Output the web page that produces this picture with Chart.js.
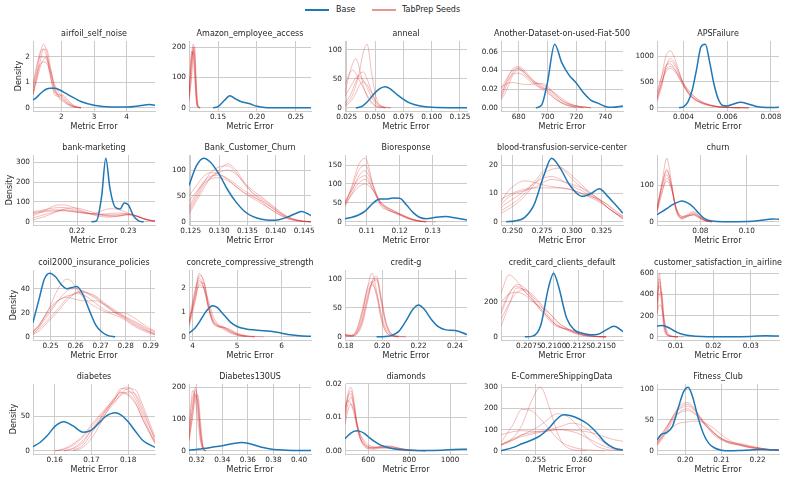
<!DOCTYPE html>
<html lang="en">
<head>
<meta charset="UTF-8">
<title>Metric Error densities: Base vs TabPrep Seeds</title>
<script src="https://cdn.jsdelivr.net/npm/chart.js"></script>
<style>
    body { margin: 0; background: #fff; font-family: "DejaVu Sans", sans-serif; }
    #figure { position: relative; width: 790px; height: 480px; overflow: hidden; }
    #figure canvas { position: absolute; }
    .legend-line { position: absolute; top: 9px; width: 24px; height: 2px; }
    .legend-text { position: absolute; top: 4px; font-size: 8px; line-height: 12px; color: #262626; }
</style>
</head>
<body>
<div id="figure">
    <div class="legend-line" style="left:305px;background:#1f77b4"></div>
    <div class="legend-text" style="left:336px">Base</div>
    <div class="legend-line" style="left:372px;background:rgba(214,39,40,0.5)"></div>
    <div class="legend-text" style="left:402px">TabPrep Seeds</div>
</div>
<script>
// one entry per panel, left to right, top to bottom
const titles = ['airfoil_self_noise', 'Amazon_employee_access', 'anneal', 'Another-Dataset-on-used-Fiat-500', 'APSFailure',
    'bank-marketing', 'Bank_Customer_Churn', 'Bioresponse', 'blood-transfusion-service-center', 'churn',
    'coil2000_insurance_policies', 'concrete_compressive_strength', 'credit-g', 'credit_card_clients_default', 'customer_satisfaction_in_airline',
    'diabetes', 'Diabetes130US', 'diamonds', 'E-CommereShippingData', 'Fitness_Club'];

// x positions (metric error) where the densities were read
const grids = [
    [1.13, 1.25, 1.35, 1.45, 1.55, 1.65, 1.8, 1.95, 2.05, 2.2, 2.4, 2.6, 3.0, 3.5, 4.0, 4.4, 4.7, 4.87],
    [0.1127, 0.116, 0.118, 0.12, 0.122, 0.124, 0.127, 0.1437, 0.15, 0.158, 0.1653, 0.172, 0.18, 0.19, 0.2, 0.21, 0.23, 0.2695],
    [0.0235, 0.027, 0.03, 0.033, 0.036, 0.0395, 0.043, 0.047, 0.051, 0.055, 0.059, 0.064, 0.07, 0.08, 0.09, 0.1, 0.1312],
    [667.8, 672, 676, 680, 684, 688, 692, 696, 700, 705, 710, 715, 720, 725, 730, 735, 740, 745, 752.4],
    [0.00279, 0.003, 0.0032, 0.0034, 0.0036, 0.0038, 0.004, 0.0042, 0.0044, 0.0046, 0.0048, 0.005, 0.0052, 0.0054, 0.0056, 0.0058, 0.006, 0.0063, 0.0066, 0.007, 0.0074, 0.0078, 0.00837],
    [0.2114, 0.2135, 0.2155, 0.2175, 0.2195, 0.2215, 0.2228, 0.2238, 0.2248, 0.2256, 0.2264, 0.2274, 0.2284, 0.2292, 0.23, 0.231, 0.232, 0.233, 0.2341, 0.2352],
    [0.1247, 0.126, 0.1273, 0.1285, 0.13, 0.1315, 0.133, 0.1345, 0.136, 0.1375, 0.139, 0.1405, 0.142, 0.1435, 0.1446, 0.1462],
    [0.1034, 0.1055, 0.1075, 0.1095, 0.112, 0.114, 0.116, 0.118, 0.12, 0.122, 0.124, 0.126, 0.128, 0.131, 0.134, 0.137, 0.1404],
    [0.2403, 0.2446, 0.252, 0.26, 0.268, 0.276, 0.2828, 0.29, 0.298, 0.3083, 0.316, 0.3228, 0.33, 0.3365, 0.3428],
    [0.0613, 0.0635, 0.0655, 0.0675, 0.0695, 0.072, 0.0745, 0.077, 0.0795, 0.082, 0.085, 0.09, 0.1, 0.106, 0.111, 0.1139],
    [0.243, 0.2455, 0.2475, 0.2497, 0.252, 0.2545, 0.2565, 0.2585, 0.2605, 0.263, 0.2655, 0.268, 0.2705, 0.273, 0.2758, 0.279, 0.2825, 0.286, 0.2895, 0.2917],
    [3.917, 4.05, 4.15, 4.25, 4.35, 4.45, 4.55, 4.7, 4.85, 5.0, 5.2, 5.4, 5.6, 5.8, 6.0, 6.2, 6.4, 6.663],
    [0.1797, 0.183, 0.186, 0.189, 0.192, 0.1945, 0.197, 0.1995, 0.202, 0.205, 0.209, 0.213, 0.217, 0.22, 0.223, 0.227, 0.231, 0.235, 0.24, 0.2465],
    [0.2047, 0.2055, 0.2063, 0.2071, 0.2079, 0.2087, 0.2095, 0.21, 0.2105, 0.2113, 0.2121, 0.2129, 0.2137, 0.2145, 0.2153, 0.2161, 0.217],
    [0.00497, 0.0056, 0.0062, 0.0068, 0.0074, 0.008, 0.0088, 0.0096, 0.0105, 0.012, 0.014, 0.017, 0.02, 0.025, 0.03, 0.034, 0.0375],
    [0.1541, 0.156, 0.158, 0.16, 0.1625, 0.165, 0.1677, 0.17, 0.172, 0.174, 0.1764, 0.178, 0.18, 0.182, 0.184, 0.1873],
    [0.314, 0.317, 0.319, 0.321, 0.323, 0.325, 0.327, 0.33, 0.34, 0.35, 0.355, 0.36, 0.37, 0.38, 0.39, 0.4093],
    [486, 500, 515, 530, 545, 560, 580, 600, 630, 660, 700, 750, 800, 880, 960, 1020, 1083],
    [0.25125, 0.2525, 0.2535, 0.2545, 0.2555, 0.2565, 0.2573, 0.258, 0.2588, 0.2597, 0.2605, 0.2615, 0.2625, 0.2635, 0.26443],
    [0.1922, 0.1935, 0.195, 0.1965, 0.198, 0.1995, 0.2008, 0.202, 0.2035, 0.205, 0.2065, 0.208, 0.21, 0.2125, 0.215, 0.218, 0.221, 0.2235, 0.2259]
];

// density of the Base run on each grid (null = no curve there)
const baseCurves = [
    [0.3, 0.42, 0.55, 0.66, 0.74, 0.77, 0.77, 0.7, 0.63, 0.52, 0.38, 0.25, 0.1, 0.03, 0.03, 0.08, 0.13, 0.1],
    [null, null, null, null, null, null, null, 0, 4, 24, 40, 30, 20, 14, 5, 1, 0, 0],
    [null, null, null, 0, 1, 4, 10, 19, 28, 34, 36.5, 32, 22, 9, 3, 1, 0],
    [null, null, null, null, null, null, 0, 0.003, 0.027, 0.068, 0.048, 0.035, 0.0265, 0.016, 0.0083, 0.005, 0.0015, 0.0005, 0.002],
    [null, null, null, null, null, 0, 20, 110, 340, 745, 1180, 1230, 880, 450, 160, 45, 35, 75, 110, 70, 20, 5, 10],
    [null, null, null, null, null, null, 0, 5, 130, 320, 170, 75, 65, 95, 85, 30, 5, 0],
    [70, 108, 123, 115, 92, 62, 38, 20, 10, 5, 3, 4, 9, 16, 20, 12],
    [8, 12, 18, 28, 50, 60, 60, 63, 62, 45, 25, 12, 8, 12, 14, 10, 5],
    [null, 0, 0.3, 1.5, 6, 16, 22.5, 19, 13, 9, 10, 11.7, 9, 6, 3],
    [20, 28, 36, 45, 52, 57, 52, 40, 22, 8, 2, 0.5, 1, 4, 8, 7],
    [12, 32, 48, 53, 50, 43, 40, 41, 42, 35, 22, 10, 4, 1, 0],
    [0.15, 0.35, 0.6, 0.9, 1.15, 1.27, 1.2, 0.9, 0.6, 0.42, 0.32, 0.28, 0.25, 0.22, 0.15, 0.08, 0.04, 0.02],
    [null, null, null, null, null, null, 0, 0.2, 0.6, 2, 9, 27, 48, 55, 48, 30, 17, 12, 11, 4],
    [null, null, null, 0, 4, 65, 285, 365, 290, 110, 40, 20, 12, 15, 40, 60, 30],
    [100, 105, 106, 104, 98, 88, 72, 55, 40, 22, 10, 3, 1, 1, 4, 10, 7],
    [6, 12, 22, 35, 42, 36, 27, 30, 40, 50, 55, 52, 42, 28, 15, 5],
    [2, 3, 4, 5, 6, 7, 8, 10, 16, 24, 26, 24, 12, 4, 2, 1],
    [0.0036, 0.0045, 0.0053, 0.0058, 0.006, 0.0058, 0.0052, 0.0042, 0.0028, 0.0017, 0.0009, 0.0004, 0.0002, 0.0001, 0.0002, 0.0004, 0.0005],
    [0, 15, 33, 50, 72, 110, 150, 170, 165, 150, 130, 90, 40, 12, 4],
    [18, 27, 30, 40, 68, 95, 103, 88, 55, 28, 12, 5, 1, 0, 0.5, 1.5, 2, 1.5, 1]
];

// densities of the TabPrep seeds on the same grids (shorter rows end early)
const seedCurves = [
    [[0.5, 1.3, 2.1, 2.5, 2.2, 1.4, 0.5, 0.45, 0.35, 0.15, 0.03, 0],
     [0.8, 1.6, 2.2, 2.3, 2.0, 1.3, 0.6, 0.5, 0.4, 0.2, 0.05, 0],
     [0.6, 1.2, 1.8, 2.3, 2.3, 1.7, 0.7, 0.35, 0.25, 0.12, 0.03, 0],
     [0.7, 1.4, 1.7, 1.8, 1.75, 1.4, 0.7, 0.5, 0.5, 0.3, 0.08, 0.01],
     [0.9, 1.7, 2.0, 2.0, 1.9, 1.5, 0.8, 0.4, 0.3, 0.15, 0.04, 0],
     [0.5, 1.1, 1.6, 1.9, 2.0, 1.6, 0.9, 0.55, 0.45, 0.25, 0.06, 0]],
    [[30, 180, 200, 120, 30, 2, 0],
     [50, 150, 190, 170, 60, 5, 0],
     [20, 120, 210, 180, 70, 8, 0],
     [40, 185, 170, 100, 25, 2, 0],
     [25, 100, 180, 200, 90, 15, 0],
     [45, 160, 185, 140, 40, 3, 0]],
    [[5, 12, 22, 38, 60, 95, 110, 60, 18, 4, 1, 0],
     [25, 55, 75, 85, 70, 40, 20, 8, 2, 0],
     [40, 58, 65, 60, 48, 35, 22, 10, 3, 1, 0],
     [8, 18, 30, 45, 57, 62, 50, 28, 10, 3, 0],
     [20, 32, 42, 52, 55, 48, 35, 18, 6, 1, 0],
     [3, 8, 15, 25, 38, 45, 40, 25, 10, 3, 1, 0]],
    [[0.015, 0.03, 0.042, 0.044, 0.04, 0.033, 0.027, 0.023, 0.019, 0.012, 0.006, 0.003, 0.001, 0],
     [0.02, 0.032, 0.04, 0.042, 0.036, 0.03, 0.026, 0.022, 0.018, 0.01, 0.005, 0.002, 0.001, 0],
     [0.01, 0.025, 0.038, 0.043, 0.038, 0.032, 0.027, 0.025, 0.021, 0.014, 0.008, 0.004, 0.002, 0.001, 0],
     [0.022, 0.026, 0.027, 0.026, 0.025, 0.025, 0.026, 0.026, 0.023, 0.015, 0.008, 0.004, 0.002, 0.001, 0],
     [0.008, 0.02, 0.035, 0.041, 0.038, 0.031, 0.025, 0.021, 0.02, 0.016, 0.01, 0.005, 0.002, 0.001, 0],
     [0.012, 0.028, 0.036, 0.037, 0.034, 0.028, 0.024, 0.02, 0.016, 0.01, 0.005, 0.002, 0]],
    [[250, 600, 1000, 1100, 950, 700, 450, 300, 200, 140, 100, 70, 45, 30, 20, 12, 8, 4, 2, 0],
     [150, 450, 800, 950, 870, 680, 470, 320, 220, 150, 100, 70, 50, 35, 22, 14, 8, 3, 1, 0],
     [300, 600, 820, 850, 750, 580, 420, 300, 210, 150, 110, 80, 55, 35, 20, 12, 6, 2, 0],
     [200, 480, 700, 760, 700, 580, 450, 340, 250, 180, 130, 90, 60, 40, 25, 15, 10, 5, 2, 0],
     [120, 400, 780, 900, 820, 640, 440, 290, 190, 130, 90, 60, 40, 25, 15, 9, 5, 2, 0],
     [180, 500, 740, 800, 740, 620, 480, 360, 260, 180, 120, 80, 50, 30, 20, 12, 8, 4, 1, 0]],
    [[50, 60, 70, 72, 60, 48, 40, 35, 32, 30, 29, 28, 30, 33, 35, 33, 25, 15, 8, 4],
     [30, 55, 80, 85, 70, 50, 38, 30, 26, 24, 24, 26, 30, 34, 36, 34, 26, 16, 8, 3],
     [20, 35, 50, 60, 55, 45, 40, 38, 38, 40, 42, 44, 44, 42, 38, 32, 24, 16, 9, 5],
     [45, 55, 60, 58, 50, 42, 40, 45, 55, 62, 66, 65, 60, 52, 44, 34, 24, 14, 7, 3],
     [10, 25, 45, 65, 70, 60, 50, 42, 36, 32, 30, 30, 32, 36, 38, 34, 26, 15, 6, 2],
     [40, 50, 55, 55, 50, 45, 42, 40, 38, 36, 35, 36, 38, 40, 40, 35, 27, 17, 9, 5]],
    [[15, 40, 65, 85, 100, 112, 100, 75, 55, 42, 30, 18, 8, 3, 1, 0],
     [25, 50, 75, 95, 106, 108, 95, 72, 55, 45, 33, 20, 10, 4, 2, 0],
     [50, 70, 88, 95, 92, 82, 68, 55, 45, 35, 25, 15, 7, 3, 1, 0],
     [40, 58, 74, 83, 85, 80, 68, 56, 48, 40, 30, 18, 9, 4, 1, 0],
     [30, 55, 78, 88, 90, 84, 72, 60, 50, 38, 25, 14, 6, 2, 1, 0],
     [20, 45, 70, 85, 95, 100, 92, 75, 60, 48, 35, 22, 10, 4, 1, 0]],
    [[45, 95, 150, 168, 95, 45, 32, 25, 18, 10, 4, 1, 0],
     [50, 90, 135, 150, 95, 55, 38, 28, 20, 12, 6, 2, 0],
     [55, 85, 112, 122, 82, 50, 35, 25, 18, 10, 5, 2, 0],
     [45, 72, 92, 100, 82, 55, 40, 30, 22, 14, 7, 3, 1, 0],
     [40, 75, 102, 112, 84, 52, 38, 30, 20, 12, 6, 2, 0],
     [48, 82, 120, 135, 90, 50, 33, 26, 20, 13, 6, 2, 0]],
    [[7, 10, 13, 14.5, 14, 13, 12.5, 12, 11.5, 10, 8.5, 7, 5, 3, 1.5],
     [4, 5, 7, 10, 14, 18, 20, 19.5, 17, 13, 10, 8, 5, 3, 1.5],
     [3, 4, 6, 9, 13, 17, 18.5, 19, 16, 12, 9.5, 7.5, 5, 3, 1],
     [6, 8, 10, 11, 12, 14, 15, 14.5, 13.5, 12, 10, 8, 6, 3.5, 2],
     [8, 9, 10.5, 11.5, 12, 12, 12, 12, 11.5, 10, 9, 8, 6, 4, 2],
     [5, 6.5, 8.5, 11, 13.5, 15.5, 16, 15, 13, 11, 9, 7.5, 5, 3, 1]],
    [[30, 110, 175, 110, 30, 8, 15, 22, 12, 3, 0],
     [35, 100, 145, 100, 35, 10, 18, 25, 15, 4, 0],
     [40, 95, 130, 95, 35, 12, 20, 28, 16, 5, 0],
     [25, 80, 120, 95, 40, 15, 18, 18, 10, 3, 0],
     [38, 105, 140, 105, 38, 10, 14, 20, 12, 3, 0],
     [28, 85, 112, 90, 40, 14, 16, 20, 14, 4, 0]],
    [[2, 8, 16, 25, 36, 45, 48, 46, 40, 33, 28, 25, 22, 20, 18, 15, 10, 6, 3, 2],
     [4, 9, 14, 20, 27, 34, 38, 40, 40, 38, 35, 32, 28, 24, 20, 17, 13, 9, 5, 3],
     [3, 7, 11, 16, 21, 27, 32, 35, 37, 37, 36, 34, 30, 26, 22, 18, 14, 10, 6, 4],
     [5, 10, 16, 22, 28, 32, 34, 35, 36, 35, 32, 28, 24, 21, 20, 20, 17, 12, 7, 5],
     [4, 10, 17, 24, 29, 32, 33, 32, 31, 30, 30, 30, 28, 25, 21, 17, 12, 8, 4, 2],
     [2, 5, 9, 14, 19, 25, 30, 34, 37, 38, 36, 33, 29, 25, 20, 16, 11, 7, 4, 2]],
    [[0.5, 1.8, 2.6, 2.2, 1.2, 0.6, 0.45, 0.4, 0.25, 0.12, 0.03, 0],
     [0.7, 1.9, 2.4, 2.0, 1.2, 0.65, 0.45, 0.35, 0.2, 0.1, 0.02, 0],
     [0.4, 1.4, 2.2, 2.2, 1.4, 0.7, 0.5, 0.4, 0.25, 0.1, 0.03, 0],
     [0.6, 1.7, 2.3, 2.0, 1.3, 0.75, 0.5, 0.3, 0.15, 0.06, 0.01],
     [0.5, 1.6, 2.5, 2.3, 1.3, 0.6, 0.42, 0.38, 0.3, 0.15, 0.05, 0.02, 0],
     [0.6, 1.5, 2.1, 2.0, 1.5, 0.9, 0.55, 0.35, 0.2, 0.08, 0.02]],
    [[5, 2, 8, 35, 85, 110, 80, 35, 10, 2, 0],
     [2, 1, 5, 25, 65, 95, 100, 60, 22, 4, 0],
     [4, 3, 12, 45, 85, 95, 70, 30, 9, 2, 0],
     [1, 1, 4, 20, 60, 95, 105, 70, 28, 6, 1, 0],
     [3, 2, 10, 40, 78, 90, 75, 40, 14, 3, 0],
     [2, 2, 6, 28, 70, 92, 98, 65, 25, 5, 1, 0]],
    [[250, 355, 320, 260, 210, 160, 110, 80, 60, 40, 25, 12, 5, 1, 0],
     [130, 240, 300, 280, 220, 160, 110, 80, 60, 45, 30, 15, 6, 2, 0],
     [60, 180, 280, 270, 230, 180, 120, 90, 65, 40, 20, 8, 3, 1, 0],
     [100, 190, 255, 270, 240, 190, 140, 110, 80, 50, 25, 10, 4, 1, 0],
     [150, 250, 290, 260, 210, 150, 100, 70, 55, 45, 35, 20, 8, 2, 0],
     [200, 245, 255, 240, 200, 170, 140, 110, 80, 50, 28, 12, 5, 1, 0]],
    [[350, 600, 300, 80, 20, 8, 3, 1, 0],
     [300, 550, 420, 150, 40, 12, 4, 1, 0],
     [220, 400, 420, 200, 60, 20, 6, 2, 0],
     [210, 300, 280, 180, 80, 30, 10, 3, 1, 0],
     [330, 480, 350, 120, 30, 10, 3, 1, 0],
     [260, 520, 380, 140, 40, 15, 5, 1, 0]],
    [[null, null, null, null, 0, 3, 12, 30, 45, 58, 75, 88, 92, 80, 55, 18],
     [null, null, null, null, null, 1, 8, 25, 42, 60, 78, 90, 88, 75, 50, 12],
     [null, null, null, 0, 2, 8, 20, 35, 48, 60, 72, 80, 85, 82, 60, 15],
     [null, null, null, null, 0, 4, 15, 30, 42, 55, 70, 82, 90, 88, 65, 20],
     [null, null, null, null, null, 0, 5, 18, 35, 55, 75, 85, 80, 68, 45, 10],
     [null, null, null, 0, 3, 10, 22, 38, 50, 62, 76, 84, 82, 70, 45, 12]],
    [[40, 150, 200, 140, 50, 8, 0],
     [80, 170, 180, 120, 40, 5, 0],
     [30, 110, 170, 175, 90, 15, 0],
     [60, 190, 160, 90, 30, 4, 0],
     [50, 140, 190, 160, 60, 10, 0],
     [35, 120, 175, 150, 70, 12, 0]],
    [[0.012, 0.017, 0.019, 0.015, 0.008, 0.004, 0.0015, 0.0006, 0.0005, 0.0008, 0.001, 0.0006, 0.0002, 0],
     [0.01, 0.016, 0.018, 0.014, 0.008, 0.004, 0.002, 0.001, 0.0008, 0.0012, 0.0013, 0.0008, 0.0003, 0],
     [0.013, 0.015, 0.014, 0.011, 0.007, 0.004, 0.002, 0.0012, 0.001, 0.0011, 0.0012, 0.0007, 0.0003, 0],
     [0.009, 0.014, 0.016, 0.013, 0.008, 0.005, 0.0025, 0.0013, 0.0008, 0.0009, 0.0008, 0.0005, 0.0002, 0],
     [0.011, 0.016, 0.017, 0.013, 0.007, 0.0035, 0.0015, 0.0008, 0.0009, 0.0014, 0.0015, 0.0008, 0.0002, 0],
     [0.008, 0.012, 0.014, 0.012, 0.008, 0.005, 0.003, 0.0018, 0.0012, 0.001, 0.0008, 0.0004, 0.0001, 0]],
    [[30, 60, 120, 230, 300, 200, 90, 30, 8, 2, 0],
     [40, 120, 195, 190, 150, 100, 60, 35, 20, 10, 5, 2, 0],
     [25, 50, 75, 95, 120, 155, 175, 170, 150, 110, 65, 25, 8, 2, 1],
     [30, 55, 75, 85, 92, 100, 110, 120, 130, 125, 105, 70, 35, 12, 5],
     [75, 90, 95, 92, 90, 95, 100, 100, 98, 95, 90, 80, 65, 52, 45],
     [28, 50, 68, 78, 88, 95, 100, 98, 92, 80, 62, 40, 20, 8, 3]],
    [[10, 22, 38, 55, 70, 77, 78, 72, 60, 45, 35, 25, 18, 12, 9, 5, 3, 1.5, 1],
     [12, 25, 40, 55, 66, 71, 72, 68, 58, 48, 38, 28, 18, 12, 10, 6, 3, 2, 1],
     [8, 18, 32, 48, 60, 67, 68, 64, 56, 46, 36, 28, 20, 14, 11, 7, 4, 2, 1],
     [14, 22, 30, 38, 44, 46, 47, 48, 48, 46, 42, 36, 26, 16, 10, 6, 4, 2, 1],
     [10, 20, 35, 52, 67, 74, 75, 70, 60, 48, 38, 30, 20, 13, 9, 5, 3, 2, 1],
     [15, 28, 40, 52, 60, 64, 65, 62, 55, 45, 36, 28, 20, 14, 12, 8, 4, 2, 1]]
];

const xTickLabels = [
    ['2', '3', '4'], ['0.15', '0.20', '0.25'], ['0.025', '0.050', '0.075', '0.100', '0.125'], ['680', '700', '720', '740'], ['0.004', '0.006', '0.008'],
    ['0.22', '0.23'], ['0.125', '0.130', '0.135', '0.140', '0.145'], ['0.11', '0.12', '0.13'], ['0.250', '0.275', '0.300', '0.325'], ['0.08', '0.10'],
    ['0.25', '0.26', '0.27', '0.28', '0.29'], ['4', '5', '6'], ['0.18', '0.20', '0.22', '0.24'], ['0.2075', '0.2100', '0.2125', '0.2150'], ['0.01', '0.02', '0.03'],
    ['0.16', '0.17', '0.18'], ['0.32', '0.34', '0.36', '0.38', '0.40'], ['600', '800', '1000'], ['0.255', '0.260'], ['0.20', '0.21', '0.22']
];

const yTickLabels = [
    ['0', '1', '2'], ['0', '100', '200'], ['0', '50', '100'], ['0.00', '0.02', '0.04', '0.06'], ['0', '500', '1000'],
    ['0', '100', '200', '300'], ['0', '50', '100'], ['0', '50', '100', '150'], ['0', '10', '20'], ['0', '100'],
    ['0', '20', '40'], ['0', '1', '2'], ['0', '50', '100'], ['0', '200'], ['0', '200', '400', '600'],
    ['0', '50'], ['0', '100', '200'], ['0.00', '0.01', '0.02'], ['0', '100', '200', '300'], ['0', '50', '100']
];

const PLOT_W = 122, PLOT_H = 70;
const PAD_L = 33, PAD_R = 22, PAD_T = 16, PAD_B = 28;
const TEXT = '#262626', GRID = '#cccccc', FONT = 'DejaVu Sans';
const TICK_SIZE = 7.3;

function toPoints(xs, ys) {
    return xs.map((x, k) => ({ x: x, y: ys[k] === undefined ? null : ys[k] }));
}

// title, x label and (first column) y label
const panelText = {
    id: 'panelText',
    afterDraw(chart, args, opts) {
        const ctx = chart.ctx, a = chart.chartArea;
        const cx = (a.left + a.right) / 2;
        ctx.save();
        ctx.fillStyle = TEXT;
        ctx.textAlign = 'center';
        ctx.textBaseline = 'middle';
        ctx.font = '8px "' + FONT + '"';
        ctx.fillText(opts.title, cx, a.top - 7);
        ctx.fillText('Metric Error', cx, a.bottom + 16);
        if (opts.yLabel) {
            ctx.font = TICK_SIZE + 'px "' + FONT + '"';
            const w = Math.max(...opts.yTicks.map(t => ctx.measureText(t).width));
            ctx.font = '8px "' + FONT + '"';
            ctx.translate(a.left - 3 - w - 2.5 - 4, (a.top + a.bottom) / 2);
            ctx.rotate(-Math.PI / 2);
            ctx.fillText('Density', 0, 0);
        }
        ctx.restore();
    }
};

const figure = document.getElementById('figure');

titles.forEach((title, i) => {
    const col = i % 5, row = Math.floor(i / 5);
    const canvas = document.createElement('canvas');
    canvas.width = PAD_L + PLOT_W + PAD_R;
    canvas.height = PAD_T + PLOT_H + PAD_B;
    canvas.style.left = (156 * col) + 'px';
    canvas.style.top = (Math.round(41 + 114.33 * row) - PAD_T) + 'px';
    figure.appendChild(canvas);

    const xs = grids[i];
    const values = [baseCurves[i]].concat(seedCurves[i]).flat().filter(v => v !== null);
    const peak = Math.max(...values);
    const xTicks = xTickLabels[i].map(Number);
    const yTicks = yTickLabels[i].map(Number);

    const datasets = [{
        data: toPoints(xs, baseCurves[i]),
        borderColor: '#1f77b4',
        borderWidth: 1.5
    }].concat(seedCurves[i].map(s => ({
        data: toPoints(xs, s),
        borderColor: 'rgba(214,39,40,0.3)',
        borderWidth: 1
    })));

    new Chart(canvas, {
        type: 'line',
        data: { datasets: datasets },
        options: {
            responsive: false,
            animation: false,
            devicePixelRatio: 1,
            layout: { padding: { top: PAD_T, right: PAD_R, left: 0, bottom: 0 } },
            elements: {
                point: { radius: 0 },
                line: { cubicInterpolationMode: 'monotone' }
            },
            plugins: {
                legend: { display: false },
                tooltip: { enabled: false },
                panelText: { title: title, yLabel: col === 0, yTicks: yTickLabels[i] }
            },
            scales: {
                x: {
                    type: 'linear',
                    min: xs[0],
                    max: xs[xs.length - 1],
                    grid: { color: GRID, drawTicks: false },
                    border: { color: GRID },
                    ticks: {
                        font: { family: FONT, size: TICK_SIZE },
                        color: TEXT,
                        padding: 2,
                        maxRotation: 0,
                        autoSkip: false,
                        callback: (v, k) => xTickLabels[i][k]
                    },
                    afterBuildTicks: s => { s.ticks = xTicks.map(v => ({ value: v })); },
                    afterFit: s => { s.height = PAD_B; s.paddingLeft = 0; s.paddingRight = 0; }
                },
                y: {
                    type: 'linear',
                    min: -0.05 * peak,
                    max: 1.05 * peak,
                    grid: { color: GRID, drawTicks: false },
                    border: { color: GRID },
                    ticks: {
                        font: { family: FONT, size: TICK_SIZE },
                        color: TEXT,
                        padding: 3,
                        autoSkip: false,
                        callback: (v, k) => yTickLabels[i][k]
                    },
                    afterBuildTicks: s => { s.ticks = yTicks.map(v => ({ value: v })); },
                    afterFit: s => { s.width = PAD_L; s.paddingTop = 0; s.paddingBottom = 0; }
                }
            }
        },
        plugins: [panelText]
    });
});
</script>
</body>
</html>
